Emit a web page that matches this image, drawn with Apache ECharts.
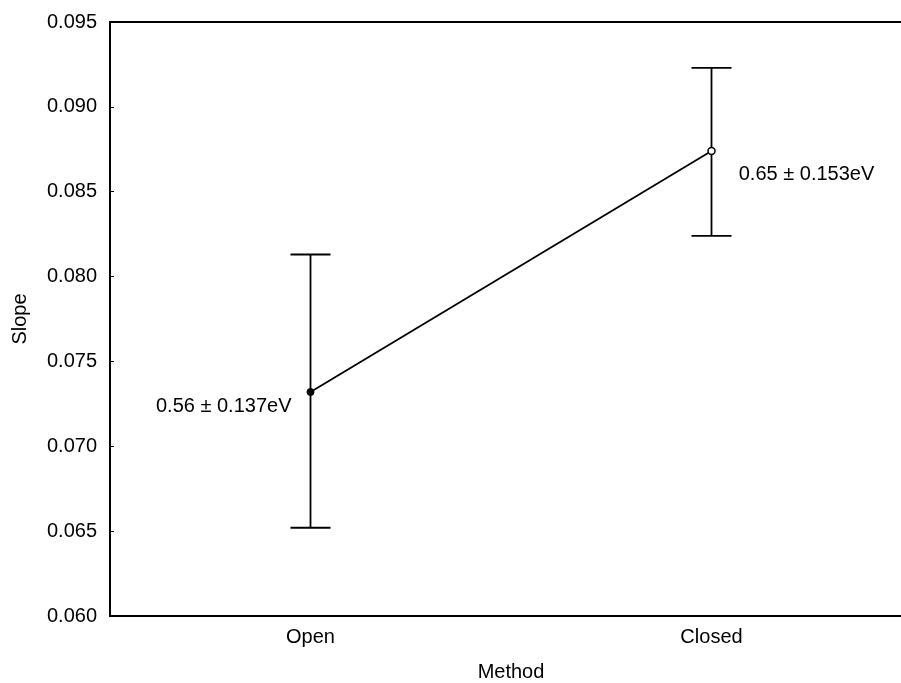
<!DOCTYPE html>
<html>
<head>
<meta charset="utf-8">
<script src="https://cdn.jsdelivr.net/npm/echarts@6/dist/echarts.min.js"></script>
<style>html,body{margin:0;padding:0;background:#fff;}#c{width:901px;height:683px;}</style>
</head>
<body>
<div id="c"></div>
<script>
const categories = ['Open', 'Closed'];
const means = [0.0732, 0.0874];
const upper = [0.0813, 0.0923];
const lower = [0.0652, 0.0824];
const pointLabels = ['0.56 \u00b1 0.137eV', '0.65 \u00b1 0.153eV'];
const yTicks = { min: 0.060, max: 0.095, interval: 0.005 };

const FONT = 'Liberation Sans, Arial, sans-serif';
const FS = 20;
const chart = echarts.init(document.getElementById('c'), null, { renderer: 'canvas' });

const option = {
  backgroundColor: '#fff',
  animation: false,
  grid: {
    left: 110, top: 22, bottom: 67, right: -11,
    outerBoundsMode: 'none', containLabel: false,
    show: true, borderColor: '#000', borderWidth: 1.8, backgroundColor: 'transparent'
  },
  xAxis: {
    type: 'category',
    data: categories,
    name: 'Method',
    nameLocation: 'middle',
    nameGap: 46,
    nameTextStyle: { color: '#000', fontSize: FS, fontFamily: FONT },
    axisLine: { lineStyle: { color: '#000', width: 1.8 } },
    axisTick: { inside: true, length: 4, alignWithLabel: true, lineStyle: { color: '#000' } },
    axisLabel: { color: '#000', fontSize: FS, fontFamily: FONT, margin: 11 },
    splitLine: { show: false }
  },
  yAxis: {
    type: 'value',
    min: yTicks.min,
    max: yTicks.max,
    interval: yTicks.interval,
    name: 'Slope',
    nameLocation: 'middle',
    nameGap: 80,
    nameTextStyle: { color: '#000', fontSize: FS, fontFamily: FONT },
    axisLine: { show: true, lineStyle: { color: '#000', width: 1.8 } },
    axisTick: { show: true, inside: true, length: 4, lineStyle: { color: '#000' } },
    axisLabel: { color: '#000', fontSize: FS, fontFamily: FONT, margin: 13, formatter: v => v.toFixed(3) },
    splitLine: { show: false }
  },
  series: [
    {
      type: 'custom',
      data: categories.map((c, i) => [i, lower[i], upper[i]]),
      renderItem: function (params, api) {
        const lo = api.coord([api.value(0), api.value(1)]);
        const hi = api.coord([api.value(0), api.value(2)]);
        const half = 20;
        const style = { stroke: '#000', lineWidth: 1.8 };
        return {
          type: 'group',
          children: [
            { type: 'line', shape: { x1: lo[0], y1: lo[1], x2: hi[0], y2: hi[1] }, style },
            { type: 'line', shape: { x1: hi[0] - half, y1: hi[1], x2: hi[0] + half, y2: hi[1] }, style },
            { type: 'line', shape: { x1: lo[0] - half, y1: lo[1], x2: lo[0] + half, y2: lo[1] }, style }
          ]
        };
      },
      z: 2
    },
    {
      type: 'line',
      data: means.map((v, i) => ({
        value: v,
        itemStyle: i === 0 ? { color: '#000', borderColor: '#000', borderWidth: 1 } : { color: '#fff', borderColor: '#000', borderWidth: 1.5 },
        label: {
          show: true,
          formatter: pointLabels[i],
          position: i === 0 ? 'left' : 'right',
          offset: i === 0 ? [-10, 15] : [18, 24],
          color: '#000',
          fontSize: FS,
          fontFamily: FONT
        }
      })),
      symbol: 'circle',
      symbolSize: 7,
      lineStyle: { color: '#000', width: 1.8 },
      z: 3
    }
  ]
};
chart.setOption(option);
</script>
</body>
</html>
